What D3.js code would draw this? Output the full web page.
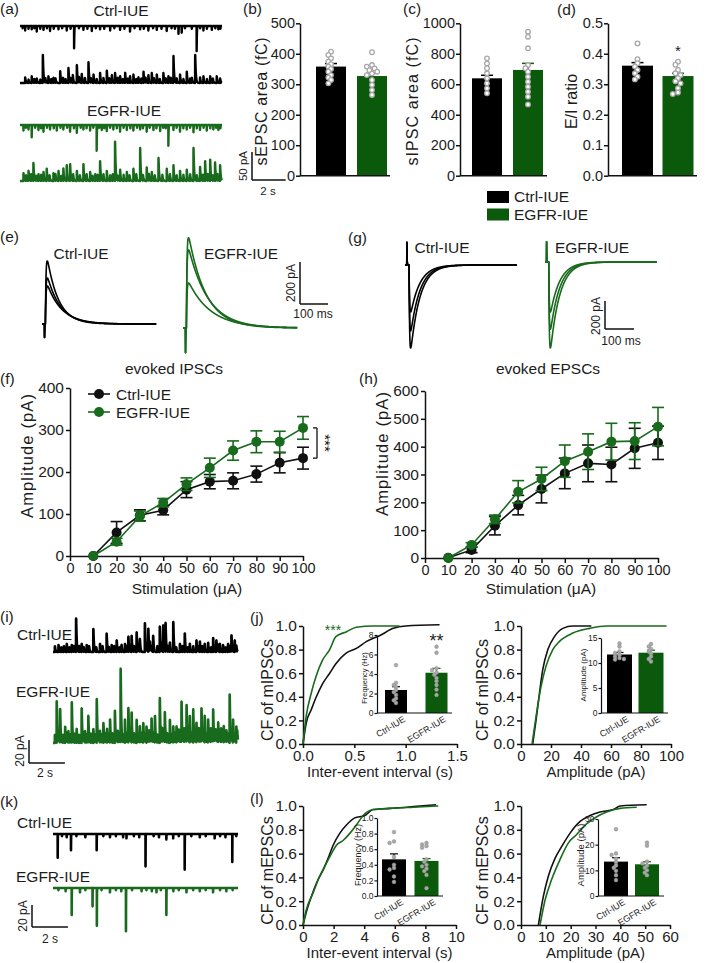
<!DOCTYPE html>
<html><head><meta charset="utf-8">
<script src="https://cdn.jsdelivr.net/npm/d3@7"></script>
<style>body{margin:0;background:#fff}svg{display:block}</style>
</head><body><div id="chart"></div>
<script>
// ================= DATA =================
const groups = ["Ctrl-IUE", "EGFR-IUE"];

// (a) spontaneous currents: [time (s), amplitude (pA)]
const aCtrlEPSC = [[0.15,-4],[0.30,-8],[0.50,-5],[0.69,-6],[0.85,-4],[0.99,-10],[1.20,-5],[1.39,-7],[1.60,-4],[1.78,-9],[2.00,-5],[2.28,-6],[2.50,-4],[2.77,-8],[3.00,-5],[3.21,-40],[3.50,-4],[3.76,-7],[4.00,-5],[4.26,-9],[4.50,-4],[4.75,-6],[5.00,-5],[5.35,-8],[5.60,-4],[5.94,-7],[6.20,-5],[6.53,-10],[6.80,-4],[7.13,-6],[7.35,-5],[7.62,-8],[7.90,-4],[8.12,-7],[8.40,-5],[8.71,-9],[9.00,-4],[9.20,-5],[9.41,-14],[9.60,-12],[9.80,-4],[10.20,-5],[10.49,-45],[10.70,-4],[10.89,-8],[11.10,-5],[11.39,-7],[11.60,-4],[11.78,-6],[11.90,-5]];
const aCtrlIPSC = [[0.30,10],[0.50,6],[0.69,12],[0.85,7],[0.99,8],[1.20,6],[1.35,50],[1.50,8],[1.68,12],[1.85,7],[1.98,9],[2.10,8],[2.38,21],[2.55,9],[2.70,7],[2.87,27],[3.00,8],[3.13,14],[3.37,32],[3.50,10],[3.66,16],[3.85,9],[4.06,37],[4.20,8],[4.36,15],[4.55,7],[4.75,18],[4.95,9],[5.15,22],[5.30,8],[5.45,14],[5.64,18],[5.80,9],[5.94,12],[6.10,7],[6.24,18],[6.40,8],[6.53,12],[6.73,15],[6.90,7],[7.03,10],[7.20,8],[7.33,20],[7.45,9],[7.62,14],[7.82,18],[7.95,8],[8.12,15],[8.30,7],[8.51,18],[8.65,8],[8.81,12],[8.95,9],[9.11,48],[9.30,8],[9.50,15],[9.70,7],[9.90,20],[10.10,8],[10.20,9],[10.40,50],[10.69,10],[10.89,12],[11.10,7],[11.29,12],[11.45,8],[11.68,12],[11.88,8]];
const aEgfrEPSC = [[0.20,-10],[0.35,-5],[0.50,-8],[0.69,-22],[0.90,-5],[1.09,-9],[1.25,-6],[1.39,-12],[1.60,-5],[1.78,-8],[2.00,-6],[2.18,-10],[2.40,-5],[2.57,-8],[2.80,-5],[2.97,-12],[3.20,-6],[3.37,-14],[3.60,-5],[3.76,-8],[3.95,-6],[4.16,-10],[4.35,-5],[4.55,-46],[4.70,-5],[4.85,-9],[5.00,-6],[5.15,-11],[5.35,-5],[5.54,-8],[5.75,-6],[5.94,-12],[6.15,-5],[6.34,-9],[6.55,-6],[6.73,-10],[6.95,-5],[7.13,-8],[7.30,-6],[7.52,-12],[7.70,-5],[7.92,-9],[8.10,-6],[8.32,-11],[8.50,-5],[8.65,-6],[8.81,-37],[9.11,-9],[9.30,-5],[9.50,-12],[9.70,-6],[9.90,-8],[10.10,-5],[10.30,-13],[10.50,-6],[10.69,-9],[10.90,-5],[11.09,-10],[11.30,-6],[11.48,-8],[11.65,-5],[11.78,-9],[11.90,-6]];
const aEgfrIPSC = [[0.20,14],[0.35,10],[0.50,18],[0.65,12],[0.79,32],[0.95,9],[1.09,12],[1.25,11],[1.39,16],[1.58,22],[1.75,10],[1.98,14],[2.10,12],[2.28,18],[2.45,9],[2.57,22],[2.77,28],[2.97,30],[3.15,12],[3.37,18],[3.55,10],[3.76,30],[3.95,12],[4.16,16],[4.30,9],[4.46,12],[4.60,11],[4.75,35],[4.95,12],[5.15,18],[5.35,10],[5.50,12],[5.64,70],[5.80,9],[5.94,20],[6.15,11],[6.34,16],[6.50,10],[6.73,22],[6.90,12],[7.13,59],[7.30,10],[7.52,24],[7.65,12],[7.82,16],[8.00,10],[8.22,41],[8.45,11],[8.71,22],[8.90,12],[9.11,28],[9.30,10],[9.50,18],[9.70,11],[9.90,20],[10.10,12],[10.30,59],[10.50,10],[10.69,25],[10.85,11],[10.99,35],[11.15,12],[11.29,38],[11.45,10],[11.58,33],[11.72,12],[11.88,28]];

// (b) sEPSC area (fC)
const sepscTicks = [0,100,200,300,400,500];
const sepscMean = [358, 327];
const sepscSem = [10, 9];
const sepscCtrlCells = [407,396,385,374,366,358,350,341,330,322,314,303];
const sepscEgfrCells = [405,363,358,352,346,341,335,330,314,298,281,265];
// (c) sIPSC area (fC)
const sipscTicks = [0,200,400,600,800,1000];
const sipscMean = [639, 694];
const sipscSem = [20, 43];
const sipscCtrlCells = [770,737,705,672,639,606,573,541];
const sipscEgfrCells = [945,912,836,726,705,682,650,617,584,551,518,468];
// (d) E/I ratio
const eiTicks = [0,0.1,0.2,0.3,0.4,0.5];
const eiMean = [0.361, 0.327];
const eiSem = [0.010, 0.009];
const eiCtrlCells = [0.434,0.382,0.369,0.358,0.347,0.336,0.325,0.316];
const eiEgfrCells = [0.374,0.364,0.347,0.336,0.330,0.320,0.310,0.303,0.287,0.273,0.268];

// (e) evoked IPSC sweeps: peak (pA), decay tau (ms); stimulus artifact (pA)
const eipscCtrlPeak = [300, 219, 181];
const eipscCtrlTau = [40, 47, 52];
const eipscEgfrPeak = [430, 372, 214];
const eipscEgfrTau = [62, 70, 80];
const eipscArtifact = [-70, -128];
// (g) evoked EPSC sweeps
const eepscCtrlPeak = [-593, -470, -336];
const eepscEgfrPeak = [-614, -480, -357];
const eepscTau = [32, 32, 32];
const eepscArtifact = [178, 157];

// (f) evoked IPSCs vs stimulation
const stimTicks = [0,10,20,30,40,50,60,70,80,90,100];
const stimLevels = [10,20,30,40,50,60,70,80,90,100];
const fTicks = [0,100,200,300,400];
const ipscCtrlMean = [0,56,97,109,158,177,179,195,222,233];
const ipscCtrlSem = [0,26,13,11,19,17,19,19,24,26];
const ipscEgfrMean = [0,34,95,127,171,210,251,272,272,305];
const ipscEgfrSem = [0,8,12,10,15,23,23,26,25,27];
// (h) evoked EPSCs vs stimulation
const hTicks = [0,100,200,300,400,500,600];
const epscCtrlMean = [1,29,116,190,248,304,340,336,394,414];
const epscCtrlSem = [0,10,33,35,50,55,66,62,72,60];
const epscEgfrMean = [0,47,139,238,284,348,382,418,420,472];
const epscEgfrSem = [0,8,15,40,42,58,64,66,66,69];

// (i) mIPSC traces [t (s), pA]
const iCtrl = [[0.10,5],[0.30,6],[0.45,4],[0.60,5],[0.76,7],[0.90,4],[1.04,6],[1.15,5],[1.28,29],[1.45,5],[1.59,7],[1.70,4],[1.87,6],[2.00,5],[2.24,20],[2.40,4],[2.61,7],[2.75,5],[2.98,16],[3.10,4],[3.26,6],[3.40,5],[3.54,10],[3.70,4],[3.81,6],[4.0,7],[4.10,5],[4.19,13],[4.37,14],[4.50,5],[4.65,17],[4.75,4],[4.83,11],[5.11,25],[5.20,5],[5.30,20],[5.39,8],[5.45,4],[5.57,14],[5.80,5],[5.94,22],[6.00,5],[6.13,23],[6.26,25],[6.40,5],[6.50,8],[6.69,26],[6.85,4],[7.06,7],[7.20,5],[7.33,16],[7.50,4],[7.61,7],[7.80,5],[7.98,10],[8.05,4],[8.17,9],[8.30,5],[8.44,7],[8.63,8],[8.80,4],[8.91,12],[9.09,10],[9.15,5],[9.28,7],[9.46,6],[9.60,4],[9.74,7],[9.85,5],[9.93,14],[10.11,10],[10.20,5]];
const iEgfr = [[0.10,7],[0.20,36],[0.30,8],[0.39,29],[0.55,7],[0.67,14],[0.75,8],[0.85,10],[0.95,7],[1.04,35],[1.20,8],[1.31,12],[1.45,7],[1.59,30],[1.68,8],[1.78,10],[1.88,7],[1.96,23],[2.10,8],[2.24,12],[2.33,7],[2.43,38],[2.52,8],[2.61,10],[2.70,7],[2.80,17],[2.90,8],[3.0,12],[3.08,7],[3.17,20],[3.30,8],[3.44,28],[3.52,7],[3.60,10],[3.68,8],[3.76,64],[3.90,7],[4.0,20],[4.10,8],[4.19,30],[4.28,7],[4.37,26],[4.50,8],[4.65,20],[4.75,7],[4.83,14],[4.92,8],[5.02,17],[5.10,7],[5.20,14],[5.28,8],[5.35,10],[5.42,7],[5.48,20],[5.58,8],[5.67,23],[5.80,7],[5.94,39],[6.0,8],[6.08,12],[6.15,7],[6.22,26],[6.35,8],[6.50,20],[6.60,7],[6.69,14],[6.78,8],[6.87,14],[6.95,7],[7.0,10],[7.08,8],[7.15,35],[7.22,7],[7.30,12],[7.36,8],[7.43,32],[7.52,7],[7.61,23],[7.70,8],[7.80,29],[7.90,7],[7.98,17],[8.05,8],[8.12,12],[8.20,7],[8.26,29],[8.35,8],[8.44,23],[8.54,7],[8.63,20],[8.70,8],[8.78,12],[8.85,7],[8.91,28],[9.0,8],[9.05,10],[9.12,7],[9.19,17],[9.27,8],[9.35,12],[9.42,7],[9.50,14],[9.58,8],[9.65,10],[9.72,7],[9.83,42],[9.92,8],[10.02,20],[10.10,7],[10.20,14],[10.25,8]];
// (j) mIPSC cumulative fractions [x, fraction]
const jIeiCtrl = [[0,0],[0.032,0.18],[0.08,0.29],[0.13,0.40],[0.19,0.51],[0.26,0.60],[0.32,0.68],[0.42,0.77],[0.52,0.81],[0.62,0.87],[0.75,0.92],[0.88,0.98],[1.0,1.0],[1.33,1.01]];
const jIeiEgfr = [[0,0],[0.03,0.23],[0.08,0.43],[0.13,0.58],[0.19,0.71],[0.26,0.80],[0.32,0.91],[0.42,0.95],[0.52,0.99],[0.68,1.0],[0.94,1.0]];
const jAmpCtrl = [[7.8,0],[10,0.2],[12.3,0.43],[14.5,0.63],[17.9,0.8],[22.3,0.91],[27.9,0.98],[34.6,1.0],[46.9,1.0]];
const jAmpEgfr = [[7.4,0],[10,0.23],[13.4,0.49],[16.7,0.66],[21.2,0.8],[25.7,0.87],[34.6,0.94],[45.8,0.98],[56.9,1.0],[97,1.0]];
const jFreqTicks = [0,2,4,6,8];
const jFreqMean = [2.36, 4.13];
const jFreqSem = [0.34, 0.45];
const jFreqCtrlCells = [4.92,3.1,2.87,2.67,2.36,2.15,1.85,1.5,1.3,1.03];
const jFreqEgfrCells = [6.8,6.18,4.58,4.4,4.15,3.93,3.58,3.27,2.87,2.4,1.85];
const jAmpTicks = [0,5,10,15];
const jAmpMean = [11.7, 12.06];
const jAmpSem = [0.4, 0.5];
const jAmpCtrlCells = [13.9,13.3,12.3,12.0,11.6,11.3,11.0,10.8,10.7];
const jAmpEgfrCells = [13.8,13.3,12.8,12.3,11.9,11.3,10.8,10.3];

// (k) mEPSC traces
const kCtrl = [[0.26,-22],[0.50,-2],[0.76,-3],[1.0,-15],[1.30,-2],[1.80,-3],[2.43,-15],[2.80,-2],[3.17,-3],[3.50,-2],[3.90,-3],[4.09,-4],[4.50,-2],[4.80,-3],[5.15,-30],[5.60,-2],[5.90,-3],[6.31,-5],[6.69,-4],[7.0,-2],[7.33,-33],[7.70,-2],[8.17,-3],[8.50,-2],[9.0,-4],[9.30,-2],[9.60,-3],[9.98,-26],[10.20,-2]];
const kEgfr = [[0.30,-2],[0.70,-3],[1.04,-25],[1.5,-4],[1.80,-2],[2.2,-17],[2.44,-35],[2.70,-2],[3.17,-4],[3.50,-2],[3.80,-3],[4.06,-40],[4.40,-2],[4.93,-3],[5.20,-2],[5.50,-3],[5.76,-4],[6.0,-2],[6.31,-25],[6.70,-3],[7.0,-2],[7.43,-4],[7.80,-2],[8.17,-3],[8.50,-2],[8.91,-4],[9.30,-2],[9.65,-3],[10.0,-2]];
// (l) mEPSC cumulative fractions
const lIeiCtrl = [[0,0],[0.22,0.11],[0.55,0.24],[0.98,0.38],[1.31,0.46],[1.64,0.56],[1.97,0.67],[2.4,0.77],[2.84,0.84],[3.38,0.9],[4.04,0.92],[4.59,0.97],[5.68,0.98],[6.77,0.99],[7.64,1.0],[8.7,1.01]];
const lIeiEgfr = [[0,0],[0.22,0.13],[0.66,0.27],[1.09,0.41],[1.53,0.52],[1.86,0.6],[2.18,0.67],[2.62,0.71],[3.06,0.77],[3.49,0.84],[3.93,0.92],[4.59,0.97],[5.68,0.98],[7.2,0.99],[8.84,1.0]];
const lAmpCtrl = [[7.0,0],[9.0,0.24],[11,0.41],[13.7,0.56],[16.4,0.66],[19.7,0.77],[23.8,0.87],[27.8,0.92],[31.8,0.95],[37.2,0.97],[39.9,1.0],[50.6,1.01]];
const lAmpEgfr = [[7.65,0],[9.7,0.21],[12.3,0.38],[15.7,0.55],[19.1,0.69],[22.4,0.76],[26.4,0.85],[30.5,0.91],[34.5,0.95],[39.9,0.98],[46.6,0.99]];
const lFreqTicks = [0,0.2,0.4,0.6,0.8,1.0];
const lFreqMean = [0.47, 0.45];
const lFreqSem = [0.07, 0.03];
const lFreqCtrlCells = [0.82,0.70,0.68,0.50,0.40,0.36,0.34,0.25,0.18];
const lFreqEgfrCells = [0.68,0.66,0.64,0.62,0.47,0.44,0.40,0.38,0.35,0.32,0.27,0.10];
const lAmpTicks = [0,10,20,30];
const lAmpMean = [13.4, 12.35];
const lAmpSem = [1.5, 1.0];
const lAmpCtrlCells = [26,16.6,16,14.5,13.2,11.9,11,9.8,8.1,6.2];
const lAmpEgfrCells = [20.8,19.6,13.4,12.7,11.8,11,10,9.1,8.1];
const cfTicks = [0,0.2,0.4,0.6,0.8,1.0];

// ================= DRAWING =================
const FONT = '"Liberation Sans", Arial, Helvetica, sans-serif';
const TXT = '#1c1c1c';
const COL = ['#000000', '#0b5a0b'];
const LINECOL = ['#111111', '#186a1c'];
const GRAY = '#a8a8a8';

const svg = d3.select('#chart').append('svg').attr('width',709).attr('height',963);
svg.append('rect').attr('width',709).attr('height',963).attr('fill','#fff');

function txt(x,y,s,o={}) {
  const t = svg.append('text').attr('font-family',FONT).attr('font-size',o.size||15.5)
    .attr('fill',o.fill||TXT).attr('text-anchor',o.anchor||'start').text(s);
  if (o.rotate!=null) t.attr('transform',`translate(${x},${y}) rotate(${o.rotate})`);
  else t.attr('x',x).attr('y',y);
  if (o.len) t.attr('textLength',o.len).attr('lengthAdjust','spacing');
  return t;
}
function styleAxis(g, fs, sw=1.5) {
  g.attr('font-family',FONT).attr('font-size',fs);
  g.select('.domain').attr('stroke','#111').attr('stroke-width',sw);
  g.selectAll('.tick line').attr('stroke','#111').attr('stroke-width',sw);
  g.selectAll('.tick text').attr('fill',TXT);
}
function hline(x1,x2,y,sw=1.5,c='#111'){ svg.append('line').attr('x1',x1).attr('x2',x2).attr('y1',y).attr('y2',y).attr('stroke',c).attr('stroke-width',sw); }
function vline(x,y1,y2,sw=1.5,c='#111'){ svg.append('line').attr('x1',x).attr('x2',x).attr('y1',y1).attr('y2',y2).attr('stroke',c).attr('stroke-width',sw); }

function swarm(vals, y, cx, r) {
  const placed = [];
  return vals.map(v => {
    const py = y(v);
    for (const k of [0,-0.5,0.5,-1,1]) {
      const px = cx + k*(2*r+0.6);
      if (placed.every(p => Math.hypot(p[0]-px,p[1]-py) >= 1.5*r)) { placed.push([px,py]); return [px,py]; }
    }
    placed.push([cx,py]); return [cx,py];
  });
}

// Bar + scatter panel
function barPanel(o) {
  const y = d3.scaleLinear().domain([0,o.max]).range([o.bottom,o.top]);
  const x = d3.scalePoint().domain(groups).range(o.centers);
  const g = svg.append('g');
  g.selectAll('rect').data(groups).join('rect')
    .attr('x',d=>x(d)-o.barW/2).attr('width',o.barW)
    .attr('y',(d,i)=>y(o.mean[i])).attr('height',(d,i)=>o.bottom-y(o.mean[i]))
    .attr('fill',(d,i)=>COL[i]);
  groups.forEach((gname,i)=>{
    const cx = x(gname), top = y(o.mean[i]+o.sem[i]);
    g.append('line').attr('x1',cx).attr('x2',cx).attr('y1',y(o.mean[i])).attr('y2',top).attr('stroke',COL[i]).attr('stroke-width',o.esw||1.5);
    g.append('line').attr('x1',cx-o.cap).attr('x2',cx+o.cap).attr('y1',top).attr('y2',top).attr('stroke',COL[i]).attr('stroke-width',o.esw||1.5);
  });
  [o.ctrl,o.egfr].forEach((vals,i)=>{
    const pts = swarm(vals,y,x(groups[i]),o.r);
    g.append('g').selectAll('circle').data(pts).join('circle')
      .attr('cx',d=>d[0]).attr('cy',d=>d[1]).attr('r',o.r)
      .attr('fill',o.filled?GRAY:'#ffffff').attr('stroke',o.filled?'#939393':GRAY).attr('stroke-width',o.filled?0.5:1.3);
  });
  const ya = svg.append('g').attr('transform',`translate(${o.axisX},0)`)
    .call(d3.axisLeft(y).tickValues(o.ticks).tickFormat(o.fmt).tickSize(o.tick).tickSizeOuter(0).tickPadding(o.pad!=null?o.pad:1));
  styleAxis(ya,o.fs,o.asw||1.5);
  hline(o.axisX,o.axisEnd,o.bottom,o.asw||1.5);
  return {x,y};
}

// Synaptic-current synthesis from the event lists
function synth(events, dur, dt, tr, td) {
  const n = Math.round(dur/dt)+1;
  const v = new Float64Array(n);
  const tp = (tr*td/(td-tr))*Math.log(td/tr);
  const norm = Math.exp(-tp/td)-Math.exp(-tp/tr);
  for (const [t0,a] of events) {
    const i0 = Math.max(0,Math.ceil(t0/dt));
    const i1 = Math.min(n-1,Math.floor((t0+8*td)/dt));
    for (let i=i0;i<=i1;i++){ const s=i*dt-t0; v[i]+=a*(Math.exp(-s/td)-Math.exp(-s/tr))/norm; }
  }
  return Array.from(v,(val,i)=>[i*dt,val]);
}
function drawTrace(pts, xs, ys, color, sw) {
  svg.append('path').datum(pts).attr('fill','none').attr('stroke',color).attr('stroke-width',sw)
    .attr('stroke-linejoin','round')
    .attr('d',d3.line().x(d=>xs(d[0])).y(d=>ys(d[1])));
}

// ---------- (a) ----------
txt(0,14,'(a)');
txt(121,16,'Ctrl-IUE',{anchor:'middle'});
txt(124,116,'EGFR-IUE',{anchor:'middle'});
{
  const xs = d3.scaleLinear().domain([0,12]).range([20,222]);
  const mk = base => d3.scaleLinear().domain([0,50]).range([base,base-28]);
  drawTrace(synth(aCtrlEPSC,12,0.001,0.002,0.012),xs,mk(26),COL[0],2.4);
  drawTrace(synth(aCtrlIPSC,12,0.001,0.003,0.035),xs,mk(83),COL[0],2.4);
  drawTrace(synth(aEgfrEPSC,12,0.001,0.002,0.012),xs,mk(125),LINECOL[1],2.4);
  drawTrace(synth(aEgfrIPSC,12,0.001,0.003,0.035),xs,mk(181),LINECOL[1],2.4);
  const ysb = mk(180);
  const xsb = d3.scaleLinear().domain([0,2]).range([252,252+(xs(2)-xs(0))]);
  vline(252,ysb(50),ysb(0)); hline(xsb(0),xsb(2),ysb(0));
  txt(247,166,'50 pA',{rotate:-90,anchor:'middle',size:11.5});
  txt(268,195,'2 s',{anchor:'middle',size:11.5});
}

// ---------- (b) (c) (d) ----------
txt(243,14,'(b)'); txt(403,14,'(c)'); txt(557,15,'(d)');
barPanel({max:500,top:23.3,bottom:175.7,centers:[331,372],barW:30,mean:sepscMean,sem:sepscSem,ctrl:sepscCtrlCells,egfr:sepscEgfrCells,
  ticks:sepscTicks,fmt:d3.format('d'),axisX:300,axisEnd:390,tick:4,fs:14.5,cap:6,r:2.3});
txt(267,101.5,'sEPSC area (fC)',{rotate:-90,anchor:'middle',size:16,len:128});
barPanel({max:1000,top:23.3,bottom:175.7,centers:[487,528],barW:30,mean:sipscMean,sem:sipscSem,ctrl:sipscCtrlCells,egfr:sipscEgfrCells,
  ticks:sipscTicks,fmt:d3.format('d'),axisX:460,axisEnd:547,tick:4,fs:14.5,cap:6,r:2.3});
txt(418,101.5,'sIPSC area (fC)',{rotate:-90,anchor:'middle',size:16,len:128});
const dP = barPanel({max:0.5,top:23.3,bottom:175.7,centers:[637.5,678],barW:31,mean:eiMean,sem:eiSem,ctrl:eiCtrlCells,egfr:eiEgfrCells,
  ticks:eiTicks,fmt:d3.format('.1f'),axisX:608,axisEnd:697,tick:4,fs:14.5,cap:6,r:2.3});
txt(577,101.5,'E/I ratio',{rotate:-90,anchor:'middle',size:16});
txt(dP.x('EGFR-IUE'),56,'*',{anchor:'middle',size:15});
[0,1].forEach(i=>{
  svg.append('rect').attr('x',487).attr('y',191+i*17.5).attr('width',22).attr('height',12).attr('fill',COL[i]);
  txt(514,202+i*17.5,groups[i],{size:15.5});
});

// ---------- (e) evoked IPSC traces ----------
txt(0,242,'(e)'); txt(348,243,'(g)');
txt(81,259,'Ctrl-IUE',{anchor:'middle'});
txt(241,259,'EGFR-IUE',{anchor:'middle'});
{
  const ey = base => d3.scaleLinear().domain([0,200]).range([base,base-42]);
  const sets = [
    {peaks:eipscCtrlPeak,taus:eipscCtrlTau,art:eipscArtifact[0],x0:42,base:324,col:COL[0]},
    {peaks:eipscEgfrPeak,taus:eipscEgfrTau,art:eipscArtifact[1],x0:183,base:328,col:LINECOL[1]}];
  sets.forEach(s=>{
    const xs = d3.scaleLinear().domain([0,408]).range([s.x0,s.x0+408*0.28]);
    const ys = ey(s.base);
    s.peaks.forEach((p,k)=>{
      const a = synth([[8.5,s.art]],408,0.5,0.2,0.6);
      const b = synth([[12,p]],408,0.5,2.2,s.taus[k]);
      drawTrace(a.map((d,i)=>[d[0],d[1]+b[i][1]]),xs,ys,s.col,1.6);
    });
  });
  const ys = ey(304);
  vline(300,ys(200),ys(0)); hline(300,300+100*0.28,ys(0));
  txt(295,283,'200 pA',{rotate:-90,anchor:'middle',size:12});
  txt(313,318,'100 ms',{anchor:'middle',size:12});
}
// ---------- (g) evoked EPSC traces ----------
txt(442,253,'Ctrl-IUE',{anchor:'middle'});
txt(592,253,'EGFR-IUE',{anchor:'middle'});
{
  const gy = base => d3.scaleLinear().domain([0,200]).range([base,base-28]);
  const sets = [
    {peaks:eepscCtrlPeak,art:eepscArtifact[0],x0:405,base:265,col:COL[0],on:14},
    {peaks:eepscEgfrPeak,art:eepscArtifact[1],x0:545,base:262,col:LINECOL[1],on:13}];
  sets.forEach(s=>{
    const xs = d3.scaleLinear().domain([0,386]).range([s.x0,s.x0+386*0.29]);
    const ys = gy(s.base);
    s.peaks.forEach((p,k)=>{
      const a = synth([[s.on-8,s.art]],386,0.5,0.2,0.6);
      const b = synth([[s.on,p]],386,0.5,1.8,eepscTau[k]);
      drawTrace(a.map((d,i)=>[d[0],d[1]+b[i][1]]),xs,ys,s.col,1.6);
    });
  });
  const ys = gy(329);
  vline(605,ys(200),ys(0)); hline(605,605+100*0.29,ys(0));
  txt(600,316,'200 pA',{rotate:-90,anchor:'middle',size:12});
  txt(621,345,'100 ms',{anchor:'middle',size:12});
}

// ---------- (f) (h) line plots ----------
function linePanel(o) {
  const x = d3.scaleLinear().domain([0,100]).range(o.xr);
  const y = d3.scaleLinear().domain([0,o.max]).range([o.bottom,o.top]);
  const xa = svg.append('g').attr('transform',`translate(0,${o.bottom})`)
    .call(d3.axisBottom(x).tickValues(stimTicks).tickFormat(d3.format('d')).tickSize(5).tickSizeOuter(0).tickPadding(2));
  styleAxis(xa,14.5);
  const ya = svg.append('g').attr('transform',`translate(${o.xr[0]},0)`)
    .call(d3.axisLeft(y).tickValues(o.ticks).tickFormat(d3.format('d')).tickSize(4).tickSizeOuter(0).tickPadding(2));
  styleAxis(ya,15.5);
  [[o.cm,o.cs],[o.em,o.es]].forEach(([m,s],i)=>{
    const g = svg.append('g');
    const pts = stimLevels.map((st,k)=>({x:st,m:m[k],s:s[k]}));
    g.append('path').datum(pts).attr('fill','none').attr('stroke',LINECOL[i]).attr('stroke-width',1.6)
      .attr('d',d3.line().x(d=>x(d.x)).y(d=>y(d.m)));
    pts.filter(d=>d.s>0).forEach(d=>{
      g.append('line').attr('x1',x(d.x)).attr('x2',x(d.x)).attr('y1',y(d.m-d.s)).attr('y2',y(d.m+d.s)).attr('stroke',LINECOL[i]).attr('stroke-width',1.6);
      [d.m-d.s,d.m+d.s].forEach(v=>g.append('line').attr('x1',x(d.x)-6).attr('x2',x(d.x)+6).attr('y1',y(v)).attr('y2',y(v)).attr('stroke',LINECOL[i]).attr('stroke-width',1.6));
    });
    g.selectAll('circle').data(pts).join('circle').attr('cx',d=>x(d.x)).attr('cy',d=>y(d.m)).attr('r',5).attr('fill',LINECOL[i]);
  });
  return {x,y};
}
txt(0,384,'(f)'); txt(359,384,'(h)');
txt(174,374,'evoked IPSCs',{anchor:'middle'});
txt(548,374,'evoked EPSCs',{anchor:'middle'});
const fP = linePanel({xr:[70,303],top:388,bottom:556,max:400,ticks:fTicks,cm:ipscCtrlMean,cs:ipscCtrlSem,em:ipscEgfrMean,es:ipscEgfrSem});
txt(187,594,'Stimulation (μA)',{anchor:'middle'});
txt(33,456,'Amplitude (pA)',{rotate:-90,anchor:'middle',size:16.5,len:124});
[0,1].forEach(i=>{
  const yy = 394+i*18;
  hline(88,110,yy,1.6,LINECOL[i]);
  svg.append('circle').attr('cx',99).attr('cy',yy).attr('r',5).attr('fill',LINECOL[i]);
  txt(116,yy+5.5,groups[i]);
});
{
  const y1 = fP.y(ipscEgfrMean[9]), y2 = fP.y(ipscCtrlMean[9]);
  vline(317,y1,y2,1.3); hline(313,317,y1,1.3); hline(313,317,y2,1.3);
  txt(320,(y1+y2)/2,'***',{rotate:90,anchor:'middle',size:15,fill:'#111'});
}
linePanel({xr:[425,658],top:391,bottom:558,max:600,ticks:hTicks,cm:epscCtrlMean,cs:epscCtrlSem,em:epscEgfrMean,es:epscEgfrSem});
txt(541,594,'Stimulation (μA)',{anchor:'middle'});
txt(388,454,'Amplitude (pA)',{rotate:-90,anchor:'middle',size:16.5,len:124});

// ---------- (i) (k) mini traces ----------
txt(0,622,'(i)');
txt(17,640,'Ctrl-IUE'); txt(16,697,'EGFR-IUE');
{
  const xs = d3.scaleLinear().domain([0,10.3]).range([53,238]);
  const mk = base => d3.scaleLinear().domain([0,20]).range([base,base-23]);
  drawTrace(synth(iCtrl,10.3,0.001,0.003,0.03),xs,mk(652),COL[0],2.6);
  drawTrace(synth(iEgfr,10.3,0.001,0.003,0.03),xs,mk(743),LINECOL[1],2.6);
  const ys = mk(763);
  vline(29,ys(20),ys(0)); hline(29,29+xs(2)-xs(0),ys(0));
  txt(24,751,'20 pA',{rotate:-90,anchor:'middle',size:12});
  txt(45,777,'2 s',{anchor:'middle',size:12});
}
txt(0,807,'(k)');
txt(17,828,'Ctrl-IUE'); txt(16,882,'EGFR-IUE');
{
  const xs = d3.scaleLinear().domain([0,10.3]).range([53,238]);
  const mk = base => d3.scaleLinear().domain([0,20]).range([base,base-22]);
  drawTrace(synth(kCtrl,10.3,0.001,0.0008,0.004),xs,mk(834),COL[0],2.6);
  drawTrace(synth(kEgfr,10.3,0.001,0.0008,0.004),xs,mk(888),LINECOL[1],2.6);
  const ys = mk(927);
  vline(32,ys(20),ys(0)); hline(32,32+xs(2)-xs(0),ys(0));
  txt(27,916,'20 pA',{rotate:-90,anchor:'middle',size:12});
  txt(50,943,'2 s',{anchor:'middle',size:12});
}

// ---------- CDF panels ----------
function cdfPanel(o) {
  const x = d3.scaleLinear().domain(o.xd).range(o.xr);
  const y = d3.scaleLinear().domain([0,1]).range([o.bottom,o.top]);
  const xa = svg.append('g').attr('transform',`translate(0,${o.bottom})`)
    .call(d3.axisBottom(x).tickValues(o.xt).tickFormat(o.xf).tickSize(4).tickSizeOuter(0).tickPadding(2));
  styleAxis(xa,15);
  const ya = svg.append('g').attr('transform',`translate(${o.xr[0]},0)`)
    .call(d3.axisLeft(y).tickValues(cfTicks).tickFormat(d3.format('.1f')).tickSize(4).tickSizeOuter(0).tickPadding(2));
  styleAxis(ya,15.5);
  [o.c,o.e].forEach((pts,i)=>{
    svg.append('path').datum(pts).attr('fill','none').attr('stroke',LINECOL[i]).attr('stroke-width',1.6)
      .attr('d',d3.line().x(d=>x(d[0])).y(d=>y(d[1])).curve(d3.curveMonotoneX));
  });
  txt(o.ylx,(o.top+o.bottom)/2+5,o.yl,{rotate:-90,anchor:'middle',size:16});
  txt((o.xr[0]+o.xr[1])/2,o.bottom+33,o.xl,{anchor:'middle',size:15});
  return {x,y};
}
function inset(o) {
  const P = barPanel({max:o.max,top:o.top,bottom:o.bottom,centers:o.centers,barW:o.barW,mean:o.mean,sem:o.sem,ctrl:o.c,egfr:o.e,
    ticks:o.ticks,fmt:o.fmt,axisX:o.axisX,axisEnd:o.axisEnd,tick:2.5,fs:8.5,cap:4,r:1.9,filled:true,pad:1,asw:1.2,esw:1.2});
  groups.forEach((gname,i)=>{
    txt(P.x(gname)+10,o.bottom+8,gname,{rotate:-31,anchor:'end',size:9});
  });
  txt(o.ylx,o.ylc,o.yl,{rotate:-90,anchor:'middle',size:o.yls});
  return P;
}
txt(250,623,'(j)'); txt(250,804,'(l)');
cdfPanel({xd:[0,1.5],xr:[303,457],xt:[0,0.5,1.0,1.5],xf:d3.format('.1f'),top:626,bottom:744,c:jIeiCtrl,e:jIeiEgfr,yl:'CF of mIPSCs',ylx:273,xl:'Inter-event interval (s)'});
txt(333,635,'***',{anchor:'middle',size:14,fill:LINECOL[1]});
const jF = inset({max:8,top:635,bottom:713,centers:[396,436.5],barW:22,mean:jFreqMean,sem:jFreqSem,c:jFreqCtrlCells,e:jFreqEgfrCells,
  ticks:jFreqTicks,fmt:d3.format('d'),axisX:377,axisEnd:452,yl:'Frequency (Hz)',ylx:367,ylc:678,yls:7.5});
txt(jF.x('EGFR-IUE'),647,'**',{anchor:'middle',size:18});
cdfPanel({xd:[0,100],xr:[521,671],xt:[0,20,40,60,80,100],xf:d3.format('d'),top:626,bottom:744,c:jAmpCtrl,e:jAmpEgfr,yl:'CF of mIPSCs',ylx:488,xl:'Amplitude (pA)'});
inset({max:15,top:638,bottom:713,centers:[619.5,651],barW:25,mean:jAmpMean,sem:jAmpSem,c:jAmpCtrlCells,e:jAmpEgfrCells,
  ticks:jAmpTicks,fmt:d3.format('d'),axisX:601,axisEnd:668,yl:'Amplitude (pA)',ylx:586,ylc:675,yls:8});

cdfPanel({xd:[0,10],xr:[303,456],xt:[0,2,4,6,8,10],xf:d3.format('d'),top:806,bottom:925,c:lIeiCtrl,e:lIeiEgfr,yl:'CF of mEPSCs',ylx:273,xl:'Inter-event interval (s)'});
inset({max:1,top:818,bottom:896,centers:[394,426.5],barW:24,mean:lFreqMean,sem:lFreqSem,c:lFreqCtrlCells,e:lFreqEgfrCells,
  ticks:lFreqTicks,fmt:d3.format('.1f'),axisX:377,axisEnd:443,yl:'Frequency (Hz)',ylx:361,ylc:855,yls:9});
cdfPanel({xd:[0,60],xr:[521,670],xt:[0,10,20,30,40,50,60],xf:d3.format('d'),top:806,bottom:925,c:lAmpCtrl,e:lAmpEgfr,yl:'CF of mEPSCs',ylx:488,xl:'Amplitude (pA)'});
inset({max:30,top:819,bottom:896,centers:[616,647],barW:24,mean:lAmpMean,sem:lAmpSem,c:lAmpCtrlCells,e:lAmpEgfrCells,
  ticks:lAmpTicks,fmt:d3.format('d'),axisX:598,axisEnd:664,yl:'Amplitude (pA)',ylx:584,ylc:855,yls:9.5});
</script></body></html>
